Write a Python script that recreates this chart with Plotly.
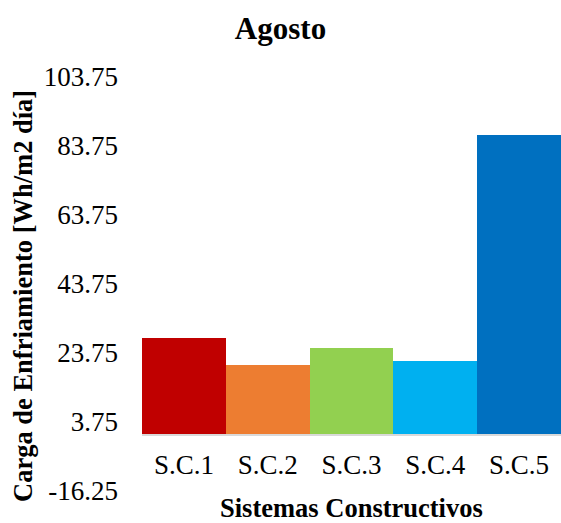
import plotly.graph_objects as go

# Cooling load per construction system, August
categories = ["S.C.1", "S.C.2", "S.C.3", "S.C.4", "S.C.5"]
values = [28.2, 20.3, 25.2, 21.4, 86.8]
colors = ["#C00000", "#ED7D31", "#92D050", "#00B0F0", "#0070C0"]
y_ticks = [103.75, 83.75, 63.75, 43.75, 23.75, 3.75, -16.25]

y_min, y_max = -16.25, 103.75
font_family = "Liberation Serif, Times New Roman, serif"
W, H = 561, 523
M_L, M_R, M_T, M_B = 142, 0, 77, 32
PW, PH = W - M_L - M_R, H - M_T - M_B


def px_x(px):
    return (px - M_L) / PW


def px_y(py):
    return (H - M_B - py) / PH


fig = go.Figure(
    go.Bar(
        x=categories,
        y=values,
        marker=dict(color=colors, line=dict(width=0)),
        width=1.0,
    )
)

fig.update_layout(
    width=W,
    height=H,
    margin=dict(l=M_L, r=M_R, t=M_T, b=M_B),
    paper_bgcolor="white",
    plot_bgcolor="white",
    bargap=0,
    showlegend=False,
    font=dict(family=font_family, size=26, color="black"),
    title=dict(
        text="<b>Agosto</b>",
        x=0.5,
        xanchor="center",
        xref="container",
        y=1 - 28 / H,
        yanchor="middle",
        yref="container",
        font=dict(family=font_family, size=31, color="black"),
    ),
    xaxis=dict(
        range=[-0.5, 4.5],
        anchor="free",
        position=(0 - y_min) / (y_max - y_min),
        showline=True,
        linecolor="#d9d9d9",
        linewidth=2,
        showgrid=False,
        zeroline=False,
        ticks="",
        ticklabelstandoff=6,
        tickfont=dict(family=font_family, size=27, color="black"),
        automargin=False,
    ),
    yaxis=dict(
        range=[y_min, y_max],
        tickvals=y_ticks,
        ticktext=[f"{v:.2f}" for v in y_ticks],
        showgrid=False,
        zeroline=False,
        showline=False,
        ticks="",
        ticklabelstandoff=23,
        tickfont=dict(family=font_family, size=27, color="black"),
        automargin=False,
    ),
    annotations=[
        # x-axis title
        dict(
            text="<b>Sistemas Constructivos</b>",
            xref="paper", yref="paper",
            x=0.5, y=px_y(508),
            xanchor="center", yanchor="middle",
            showarrow=False,
            font=dict(family=font_family, size=26.5, color="black"),
        ),
        # y-axis title
        dict(
            text="<b>Carga de Enfriamiento [Wh/m2 día]</b>",
            xref="paper", yref="paper",
            x=px_x(23), y=px_y(296),
            xanchor="center", yanchor="middle",
            textangle=-90,
            showarrow=False,
            font=dict(family=font_family, size=26.5, color="black"),
        ),
    ],
)

fig.write_html("out.html")
